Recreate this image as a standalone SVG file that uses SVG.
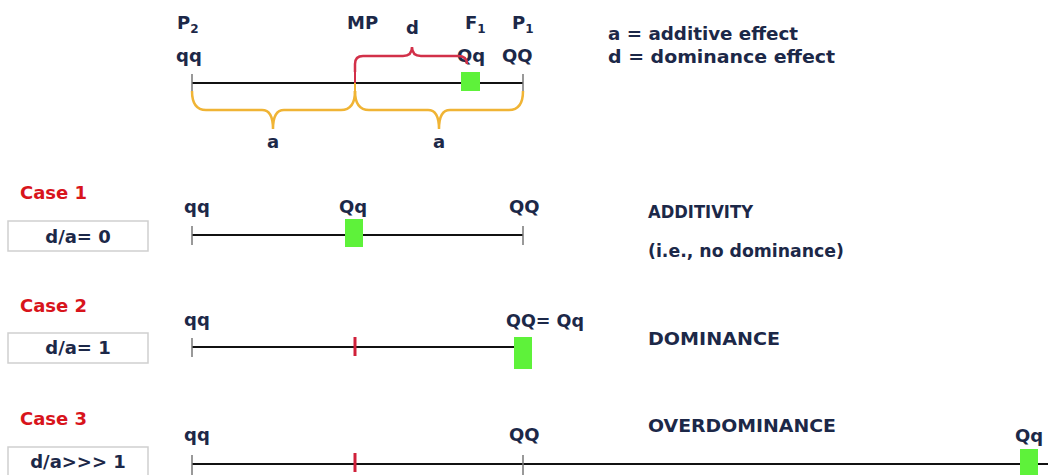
<svg xmlns="http://www.w3.org/2000/svg" width="1050" height="475" viewBox="0 0 1050 475">
<style>
text{font-family:"DejaVu Sans","Liberation Sans",sans-serif;font-weight:bold;font-size:18px;fill:#1c2848}
.case{fill:#d8141c;font-size:18px}
.sub{font-size:12px}
.axis{stroke:#111;stroke-width:2;fill:none}
.tick{stroke:#777;stroke-width:1.5}
.red{stroke:#d0203a;stroke-width:3}
.sq{fill:#5ef23a}
.box{fill:#fff;stroke:#cfcfcf;stroke-width:1.5}
.brO{fill:none;stroke:#f0b435;stroke-width:2.5}
.brR{fill:none;stroke:#d23049;stroke-width:2.5}
</style>

<g id="top-legend">
<text x="608" y="40" textLength="190" lengthAdjust="spacingAndGlyphs">a = additive effect</text>
<text x="608" y="63" textLength="227" lengthAdjust="spacingAndGlyphs">d = dominance effect</text>
</g>

<g id="top-axis">
<line class="axis" x1="192" y1="83" x2="523" y2="83"/>
<line class="tick" x1="192" y1="74" x2="192" y2="91"/>
<line class="tick" x1="523" y1="74" x2="523" y2="91"/>
<line x1="355" y1="70" x2="355" y2="83" stroke="#d23049" stroke-width="2"/>
<line x1="355" y1="83" x2="355" y2="91" stroke="#f0b435" stroke-width="2"/>
<rect class="sq" x="461" y="72" width="19" height="19"/>
<text x="177" y="29">P<tspan class="sub" dy="4">2</tspan></text>
<text x="176" y="62">qq</text>
<text x="347" y="29">MP</text>
<text x="406" y="34">d</text>
<text x="465" y="29">F<tspan class="sub" dy="4">1</tspan></text>
<text x="512" y="29">P<tspan class="sub" dy="4">1</tspan></text>
<text x="457" y="62">Qq</text>
<text x="502" y="62">QQ</text>
<text x="273" y="148" text-anchor="middle">a</text>
<text x="439" y="148" text-anchor="middle">a</text>
</g>

<g id="braces">
<path class="brO" d="M192,91 Q192,110 206,110 H262 Q273,110 273,129 Q273,110 284,110 H341 Q355,110 355,91"/>
<path class="brO" d="M355,91 Q355,110 369,110 H428 Q439,110 439,129 Q439,110 450,110 H509 Q523,110 523,91"/>
<path class="brR" d="M355,72 V64 Q355,56 363,56 H403 Q412,56 412,47 Q412,56 421,56 H458 Q467,56 467,64"/>
</g>

<g id="case1">
<text class="case" x="20" y="199">Case 1</text>
<rect class="box" x="8" y="221" width="140" height="30"/>
<text x="78" y="243" text-anchor="middle">d/a= 0</text>
<line class="axis" x1="192" y1="235" x2="523" y2="235"/>
<line class="tick" x1="192" y1="226" x2="192" y2="245"/>
<line class="tick" x1="523" y1="226" x2="523" y2="245"/>
<rect class="sq" x="345" y="219" width="18" height="28"/>
<text x="184" y="213">qq</text>
<text x="339" y="213">Qq</text>
<text x="509" y="213">QQ</text>
<text x="648" y="218" textLength="105" lengthAdjust="spacingAndGlyphs">ADDITIVITY</text>
<text x="648" y="257" textLength="196" lengthAdjust="spacingAndGlyphs">(i.e., no dominance)</text>
</g>

<g id="case2">
<text class="case" x="20" y="312">Case 2</text>
<rect class="box" x="8" y="333" width="140" height="30"/>
<text x="78" y="354" text-anchor="middle">d/a= 1</text>
<line class="axis" x1="192" y1="347" x2="515" y2="347"/>
<line class="tick" x1="192" y1="338" x2="192" y2="357"/>
<line class="red" x1="355" y1="337" x2="355" y2="356"/>
<rect class="sq" x="514" y="337" width="18" height="32"/>
<text x="184" y="326">qq</text>
<text x="506" y="327" textLength="78" lengthAdjust="spacingAndGlyphs">QQ= Qq</text>
<text x="648" y="345" textLength="132" lengthAdjust="spacingAndGlyphs">DOMINANCE</text>
</g>

<g id="case3">
<text class="case" x="20" y="425">Case 3</text>
<rect class="box" x="8" y="447" width="140" height="32"/>
<text x="78" y="468" text-anchor="middle">d/a&gt;&gt;&gt; 1</text>
<line class="axis" x1="192" y1="464" x2="1048" y2="464"/>
<line class="tick" x1="192" y1="455" x2="192" y2="475"/>
<line class="tick" x1="523" y1="455" x2="523" y2="475"/>
<line class="red" x1="355" y1="453" x2="355" y2="472"/>
<rect class="sq" x="1020" y="449" width="18" height="30"/>
<text x="184" y="441">qq</text>
<text x="509" y="441">QQ</text>
<text x="1015" y="442">Qq</text>
<text x="648" y="432" textLength="188" lengthAdjust="spacingAndGlyphs">OVERDOMINANCE</text>
</g>
</svg>
